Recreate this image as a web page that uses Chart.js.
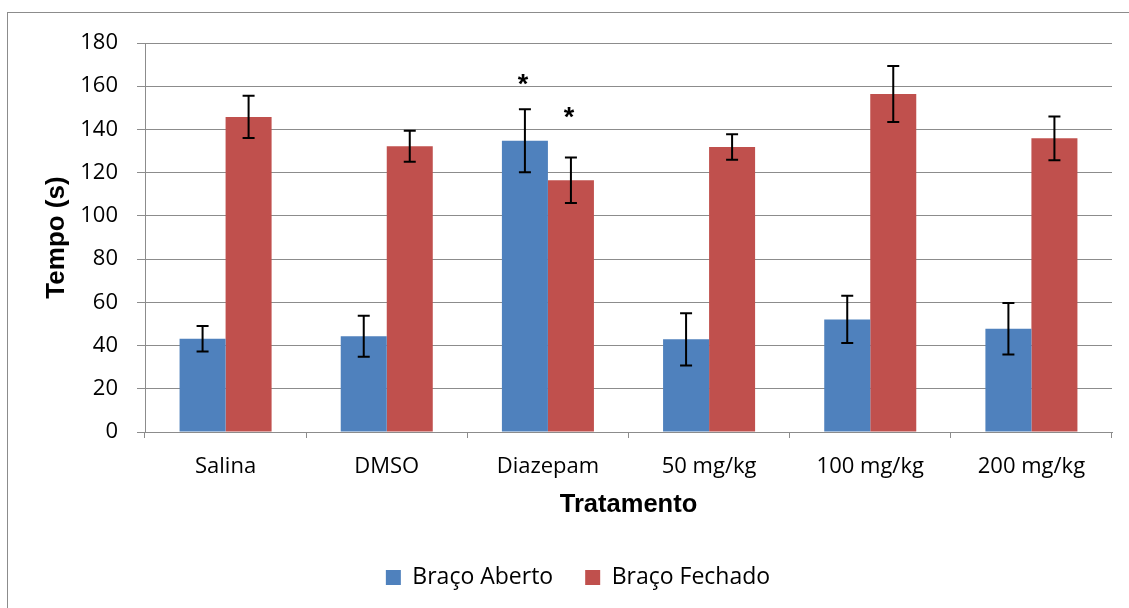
<!DOCTYPE html>
<html>
<head>
<meta charset="utf-8">
<script src="https://cdn.jsdelivr.net/npm/chart.js@4"></script>
<style>
  body { margin: 0; background: #fff; }
  #wrap { position: relative; width: 1129px; height: 608px; overflow: hidden; }
  #frame { position: absolute; left: 7px; top: 12px; width: 1200px; height: 700px;
           border-left: 1px solid #8c8c8c; border-top: 1px solid #8c8c8c; }
  canvas { position: absolute; left: 0; top: 0; }
</style>
</head>
<body>
<div id="wrap">
  <div id="frame"></div>
  <canvas id="chart" width="1129" height="608"></canvas>
</div>
<script>
const categories = ["Salina", "DMSO", "Diazepam", "50 mg/kg", "100 mg/kg", "200 mg/kg"];
const abertoMeans = [43.2, 44.3, 134.8, 42.9, 52.1, 47.8];
const abertoErrors = [5.9, 9.5, 14.6, 12.1, 10.9, 11.9];
const fechadoMeans = [145.8, 132.2, 116.5, 131.9, 156.4, 135.9];
const fechadoErrors = [9.8, 7.2, 10.5, 5.9, 13.0, 10.1];
// level (in seconds) where the significance marks sit
const abertoStars = [null, null, 164.3, null, null, null];
const fechadoStars = [null, null, 148.9, null, null, null];
const yTicks = [0, 20, 40, 60, 80, 100, 120, 140, 160, 180];

const BLUE = "#4F81BD";
const RED = "#C0504D";
const GRID = "#8c8c8c";

// error bars + asterisks drawn on top of the bars
const errorBars = {
  id: "errorBars",
  afterDatasetsDraw(chart) {
    const ctx = chart.ctx;
    const y = chart.scales.y;
    ctx.save();
    chart.data.datasets.forEach((ds, i) => {
      const meta = chart.getDatasetMeta(i);
      meta.data.forEach((bar, j) => {
        const v = ds.data[j];
        const e = ds.errors[j];
        const top = y.getPixelForValue(v + e);
        const bot = y.getPixelForValue(v - e);
        ctx.strokeStyle = "#000";
        ctx.lineWidth = 2;
        ctx.beginPath();
        ctx.moveTo(bar.x, top);
        ctx.lineTo(bar.x, bot);
        ctx.moveTo(bar.x - 6, top);
        ctx.lineTo(bar.x + 6, top);
        ctx.moveTo(bar.x - 6, bot);
        ctx.lineTo(bar.x + 6, bot);
        ctx.stroke();
        const s = ds.stars[j];
        if (s != null) {
          const size = 27;
          ctx.font = "bold " + size + "px 'Liberation Sans'";
          ctx.fillStyle = "#000";
          ctx.textAlign = "center";
          ctx.textBaseline = "alphabetic";
          ctx.fillText("*", bar.x - 2, y.getPixelForValue(s) + 0.6 * size);
        }
      });
    });
    ctx.restore();
  }
};

new Chart(document.getElementById("chart"), {
  type: "bar",
  data: {
    labels: categories,
    datasets: [
      {
        label: "Braço Aberto",
        data: abertoMeans,
        errors: abertoErrors,
        stars: abertoStars,
        backgroundColor: BLUE,
        categoryPercentage: 0.571,
        barPercentage: 1.0,
      },
      {
        label: "Braço Fechado",
        data: fechadoMeans,
        errors: fechadoErrors,
        stars: fechadoStars,
        backgroundColor: RED,
        categoryPercentage: 0.571,
        barPercentage: 1.0,
      },
    ],
  },
  options: {
    responsive: false,
    animation: false,
    devicePixelRatio: 1,
    layout: {
      padding: { left: 44, right: 17, top: 43, bottom: 9 },
    },
    plugins: {
      legend: {
        position: "bottom",
        labels: {
          boxWidth: 15,
          boxHeight: 15,
          padding: 32,
          color: "#000",
          font: { family: "'Open Sans'", size: 23 },
        },
      },
      tooltip: { enabled: false },
    },
    scales: {
      x: {
        grid: {
          drawOnChartArea: false,
          drawTicks: true,
          tickLength: 6,
          color: GRID,
        },
        border: { color: GRID },
        ticks: {
          padding: 16,
          color: "#000",
          font: { family: "'Open Sans'", size: 22 },
        },
        title: {
          display: true,
          text: "Tratamento",
          color: "#000",
          padding: { top: 0, bottom: 14 },
          font: { family: "'Liberation Sans'", size: 25.5, weight: "bold" },
        },
        afterFit: (s) => { s.height = 102; },
      },
      y: {
        min: 0,
        max: 180,
        afterBuildTicks: (s) => { s.ticks = yTicks.map((v) => ({ value: v })); },
        grid: {
          color: GRID,
          tickLength: 8,
        },
        border: { color: GRID },
        ticks: {
          padding: 19,
          color: "#000",
          font: { family: "'Open Sans'", size: 22 },
        },
        title: {
          display: true,
          text: "Tempo (s)",
          color: "#000",
          padding: { top: -3, bottom: 0 },
          font: { family: "'Liberation Sans'", size: 26, weight: "bold" },
        },
        afterFit: (s) => { s.width = 101; },
      },
    },
  },
  plugins: [errorBars],
});
</script>
</body>
</html>
